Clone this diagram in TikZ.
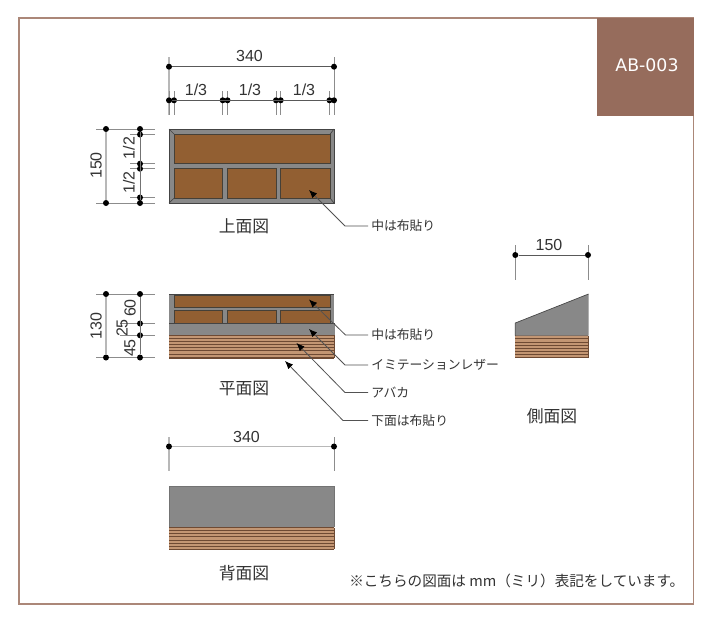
\documentclass[tikz,border=0pt]{standalone}
\usepackage{fontspec}
\setmainfont{Liberation Sans}
\newfontfamily\jpfont{Noto Sans CJK JP}
\newfontfamily\tagfont{DejaVu Sans}
\definecolor{framec}{HTML}{AB8778}
\definecolor{tagc}{HTML}{966C5C}
\definecolor{woodc}{HTML}{925F32}
\definecolor{woodline}{HTML}{454038}
\definecolor{greyc}{HTML}{888888}
\definecolor{edgec}{HTML}{444444}
\definecolor{stripec}{HTML}{C39673}
\definecolor{stripel}{HTML}{6E4A33}
\definecolor{txt}{HTML}{333333}
\usetikzlibrary{arrows.meta}
\tikzset{
  x=0.75pt,y=-0.75pt,
  wood/.style={fill=woodc,draw=woodline,line width=0.6pt},
  dotn/.style={circle,fill=black,inner sep=0pt,minimum size=4.5pt},
  dimline/.style={draw=black!65,line width=0.6pt},
  extl/.style={draw=black!45,line width=0.6pt},
  extd/.style={draw=black!55,line width=0.6pt},
  extg/.style={draw=black!28,line width=1.2pt},
  num/.style={font=\fontsize{12pt}{13pt}\selectfont,text=txt,inner sep=0pt},
  numv/.style={num,rotate=90},
  lab/.style={font=\jpfont\fontsize{9.6pt}{11pt}\selectfont,text=txt,inner sep=0pt,anchor=west},
  title/.style={font=\jpfont\fontsize{12.6pt}{14pt}\selectfont,text=txt,inner sep=0pt},
  leader/.style={draw=black!68,line width=0.6pt,-{Latex[length=6pt,width=5pt,black]}},
}
\newcommand{\stripes}[4]{% x1 x2 y1 y2
  \fill[stripec] (#1,#3) rectangle (#2,#4);
  \foreach \yy in {0,3.1,...,24}{
    \pgfmathsetmacro{\cur}{#3+\yy}
    \pgfmathparse{\cur<#4?1:0}
    \ifnum\pgfmathresult=1
      \draw[stripel,line width=0.55pt] (#1,\cur) -- (#2,\cur);
    \fi
  }
  \draw[stripel,line width=0.6pt] (#1,#3) -- (#2,#3) (#2,#3) -- (#2,#4) (#1,#4) -- (#2,#4);
}
\begin{document}
\begin{tikzpicture}
\useasboundingbox (0,0) rectangle (712,622);
\fill[white] (0,0) rectangle (712,622);
\draw[framec,line width=0.9pt] (19,18) rectangle (693.5,604);
\fill[tagc] (597,18) rectangle (694,116);
\node[font=\tagfont\fontsize{13pt}{14pt}\selectfont,text=white,inner sep=0pt] (tag) at (647,65) {AB-003};

% ---- top view
\fill[greyc] (169,129) rectangle (334,203);
\draw[edgec,line width=0.5pt] (169,129) -- (174.3,134.3) (334,129) -- (330,134.3) (169,203) -- (174.3,198) (334,203) -- (330,198);
\draw[edgec,line width=0.6pt] (169,129) rectangle (334,203);
\draw[wood] (174.3,134.3) rectangle (330,163.7);
\draw[wood] (174.3,168.7) rectangle (222.7,198);
\draw[wood] (227.3,168.7) rectangle (276,198);
\draw[wood] (280.7,168.7) rectangle (330,198);

% ---- plan view
\fill[greyc] (169,294) rectangle (334,324);
\draw[edgec,line width=0.7pt] (169,294.3) -- (334,294.3);
\fill[woodc] (174.3,295) rectangle (330,323.5);
\fill[greyc] (174.3,307.7) rectangle (330,310.3);
\fill[greyc] (222.7,310) rectangle (227.3,323.5);
\fill[greyc] (276,310) rectangle (280.7,323.5);
\draw[woodline,line width=0.5pt] (174.3,295) rectangle (330,307.7);
\draw[woodline,line width=0.5pt] (174.3,310.3) rectangle (222.7,323.5) (227.3,310.3) rectangle (276,323.5) (280.7,310.3) rectangle (330,323.5);
\stripes{169}{334}{335.3}{358}
\fill[greyc] (169,323.7) rectangle (335,335.3);
\draw[edgec,line width=0.5pt] (169,323.7) -- (335,323.7);

% ---- back view
\stripes{169}{334}{527.5}{549}
\fill[greyc] (169,486) rectangle (334.3,527.3);
\draw[black!55,line width=0.4pt] (169,527.3) -- (169,486) -- (334.3,486) -- (334.3,527.3);

% ---- side view
\stripes{515.3}{588}{335.7}{357.7}
\fill[greyc] (515.3,323) -- (588.5,294) -- (588.5,335.7) -- (515.3,335.7) -- cycle;
\draw[edgec,line width=0.5pt] (515.3,335.7) -- (515.3,323) -- (588.5,294);

% ---- dimension 340 (top)
\draw[extg] (169,57) -- (169,115);
\draw[extl] (334,57) -- (334,115);
\node[dotn] (a1) at (169,66.7) {};
\node[dotn] (a2) at (334,66.7) {};
\draw[dimline] (a1) -- (a2);
\node[num] (t340) at (249.5,56) {340};
% thirds
\foreach \n/\x in {b1/169,b2/174,b3/222.7,b4/227.5,b5/276,b6/280.7,b7/329.5,b8/334}{
  \draw[extl] (\x,91) -- (\x,115);
  \node[dotn] (\n) at (\x,100.3) {};
}
\draw[dimline] (b1) -- (b8);
\node[num] (ta) at (196,90) {1/3};
\node[num] (tb) at (250,90) {1/3};
\node[num] (tc) at (304,90) {1/3};

% ---- left dims top view
\foreach \y in {129,134.5,163.7,168.7,197.5,203}{
  \draw[extl] (130,\y) -- (154.7,\y);
}
\draw[extl] (96,129) -- (130,129) (96,203) -- (130,203);
\node[dotn] (c1) at (106,129) {};
\node[dotn] (c2) at (106,203) {};
\draw[extg] (c1) -- (c2);
\foreach \n/\y in {d1/129,d2/134.5,d3/163.7,d4/168.7,d5/197.5,d6/203}{
  \node[dotn] (\n) at (140,\y) {};
}
\draw[extd] (d1) -- (d6);
\node[numv] (t150) at (96,165.5) {150};
\node[numv] (t12a) at (129,148) {1/2};
\node[numv] (t12b) at (129,182.5) {1/2};

% ---- left dims plan view
\foreach \y in {294,323.5,335.3,357.5}{
  \draw[extl] (120,\y) -- (154.7,\y);
}
\draw[extl] (96,294) -- (120,294) (96,357.5) -- (120,357.5);
\node[dotn] (e1) at (106,294) {};
\node[dotn] (e2) at (106,357.5) {};
\draw[extg] (e1) -- (e2);
\foreach \n/\y in {f1/294,f2/323.5,f3/335.3,f4/357.5}{
  \node[dotn] (\n) at (140,\y) {};
}
\draw[extd] (f1) -- (f4);
\node[numv] (t130) at (96,326) {130};
\node[numv] (t60) at (130,308) {60};
\node[numv] (t25) at (122,328) {25};
\node[numv] (t45) at (130,348) {45};

% ---- dimension back view
\draw[extg] (169,437) -- (169,471);
\draw[extl] (334,437) -- (334,471);
\node[dotn] (g1) at (169,446.5) {};
\node[dotn] (g2) at (334,446.5) {};
\draw[extg] (g1) -- (g2);
\node[num] (t340b) at (246.5,437) {340};

% ---- dimension side view
\draw[extl] (515.3,245) -- (515.3,280);
\draw[extl] (588,245) -- (588,280);
\node[dotn] (h1) at (515.3,255) {};
\node[dotn] (h2) at (588,255) {};
\draw[dimline] (h1) -- (h2);
\node[num] (t150s) at (549,245) {150};

% ---- titles
\node[title] (tt1) at (244,226) {上面図};
\node[title] (tt2) at (244,388) {平面図};
\node[title] (tt3) at (244,573) {背面図};
\node[title] (tt4) at (552,416) {側面図};

% ---- leaders
\node[lab] (l1) at (371,226) {中は布貼り};
\node[lab] (l2) at (371,335) {中は布貼り};
\node[lab] (l3) at (371,365) {イミテーションレザー};
\node[lab] (l4) at (371,392.5) {アバカ};
\node[lab] (l5) at (371,420.5) {下面は布貼り};
\coordinate (k1) at (345,226);   \coordinate (p1) at (309,190);
\coordinate (k2) at (345.5,335); \coordinate (p2) at (309,299.5);
\coordinate (k3) at (345,365);   \coordinate (p3) at (309,329);
\coordinate (k4) at (345,392.5); \coordinate (p4) at (296.5,343);
\coordinate (k5) at (343,420.5); \coordinate (p5) at (285,361);
\draw[leader] ([xshift=-2.2pt]l1.west) -- (k1) -- (p1);
\draw[leader] ([xshift=-2.2pt]l2.west) -- (k2) -- (p2);
\draw[leader] ([xshift=-2.2pt]l3.west) -- (k3) -- (p3);
\draw[leader] ([xshift=-2.2pt]l4.west) -- (k4) -- (p4);
\draw[leader] ([xshift=-2.2pt]l5.west) -- (k5) -- (p5);

% ---- footnote
\node[lab,font=\jpfont\fontsize{10.95pt}{12pt}\selectfont] (note) at (349,581) {※こちらの図面は mm（ミリ）表記をしています。};
\end{tikzpicture}
\end{document}
